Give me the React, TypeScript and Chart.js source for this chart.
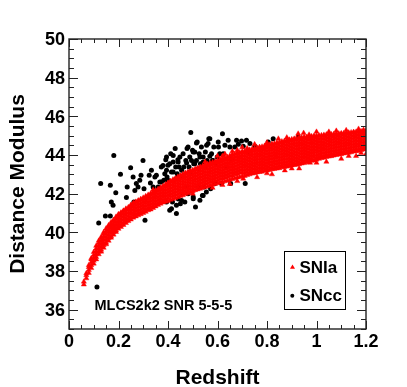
import { useEffect, useRef } from 'react';
import { Chart, registerables } from 'chart.js';

Chart.register(...registerables);

const W = 407;
const H = 387;

const xMajorTicks = [0, 0.2, 0.4, 0.6, 0.8, 1.0, 1.2];
const xTickLabels = ['0', '0.2', '0.4', '0.6', '0.8', '1', '1.2'];
const yMajorTicks = [36, 38, 40, 42, 44, 46, 48, 50];
const yTickLabels = ['36', '38', '40', '42', '44', '46', '48', '50'];
const xTitle = 'Redshift';
const yTitle = 'Distance Modulus';
const annotation = 'MLCS2k2 SNR 5-5-5';
const legendLabels = ['SNIa', 'SNcc'];

// SNcc (black dots): redshift / distance modulus
const snccZ = [
  0.113, 0.12, 0.128, 0.147, 0.167, 0.167, 0.171, 0.178, 0.181, 0.189, 0.208, 0.232, 0.235, 0.249, 0.259,
  0.262, 0.266, 0.272, 0.279, 0.286, 0.291, 0.299, 0.303, 0.307, 0.316, 0.324, 0.329, 0.333, 0.34, 0.347,
  0.353, 0.36, 0.367, 0.373, 0.383, 0.391, 0.394, 0.396, 0.4, 0.404, 0.407, 0.411, 0.414, 0.418, 0.421,
  0.425, 0.429, 0.431, 0.434, 0.437, 0.44, 0.442, 0.445, 0.448, 0.45, 0.454, 0.458, 0.461, 0.464, 0.468,
  0.472, 0.475, 0.477, 0.481, 0.485, 0.488, 0.492, 0.495, 0.499, 0.502, 0.504, 0.508, 0.511, 0.515, 0.518,
  0.521, 0.523, 0.526, 0.529, 0.531, 0.535, 0.539, 0.542, 0.545, 0.549, 0.551, 0.555, 0.558, 0.562, 0.565,
  0.569, 0.572, 0.576, 0.58, 0.585, 0.589, 0.593, 0.599, 0.604, 0.609, 0.616, 0.62, 0.623, 0.63, 0.636,
  0.643, 0.65, 0.653, 0.657, 0.67, 0.677, 0.684, 0.697, 0.704, 0.712, 0.717, 0.731, 0.724, 0.751, 0.785,
  0.805, 0.825, 0.926, 0.569, 0.515, 0.481, 0.556, 0.603, 0.394, 0.421, 0.502, 0.529, 0.569, 0.609, 0.38,
  0.407, 0.441, 0.475, 0.508, 0.542, 0.582, 0.387, 0.421, 0.455, 0.488, 0.373, 0.4, 0.434, 0.394, 0.414,
  0.434, 0.455, 0.502, 0.542,
];
const snccMu = [
  37.17, 40.48, 42.52, 40.84, 40.84, 42.43, 41.57, 41.4, 43.98, 42.05, 43.0, 41.8, 42.34, 43.34, 42.86,
  41.57, 42.17, 42.52, 42.34, 42.69, 42.95, 43.72, 42.26, 40.62, 41.8, 42.95, 42.55, 43.21, 42.34, 42.86,
  42.95, 42.34, 42.6, 43.38, 42.69, 43.76, 43.21, 42.86, 43.47, 42.48, 41.14, 44.07, 43.12, 41.57, 43.64,
  42.69, 44.33, 43.38, 41.4, 43.03, 43.76, 41.72, 43.38, 43.9, 41.48, 42.86, 42.0, 44.07, 43.38, 41.57,
  43.72, 42.34, 44.33, 42.0, 43.38, 43.9, 45.17, 43.72, 44.24, 41.83, 43.55, 44.16, 41.31, 43.72, 44.67,
  43.29, 42.34, 44.07, 41.66, 43.55, 44.41, 41.91, 43.9, 42.34, 43.38, 44.16, 42.09, 43.72, 44.59, 44.84,
  43.55, 42.26, 44.07, 43.72, 44.41, 42.52, 43.55, 43.9, 44.41, 43.72, 42.52, 45.1, 44.07, 44.5, 43.38,
  44.76, 44.41, 42.52, 43.81, 44.41, 44.76, 44.55, 44.72, 44.45, 42.52, 44.76, 44.59, 44.16, 44.45, 44.33,
  44.67, 44.84, 44.93, 44.84, 44.62, 44.41, 44.5, 44.67, 43.9, 43.98, 44.16, 43.9, 43.93, 44.07, 43.46,
  43.55, 43.64, 43.59, 43.55, 43.64, 43.72, 43.03, 43.12, 43.21, 43.12, 42.6, 42.69, 42.78, 41.57, 41.22,
  40.97, 41.65, 41.74, 41.91,
];

// SNIa (red triangles): read column by column along the dense band
const snIaColZ = [
  0.06, 0.07, 0.08, 0.09, 0.1, 0.11, 0.12, 0.13, 0.14, 0.15, 0.16, 0.17, 0.18, 0.19, 0.2,
  0.21, 0.22, 0.23, 0.24, 0.25, 0.26, 0.27, 0.28, 0.29, 0.3, 0.31, 0.32, 0.33, 0.34, 0.35,
  0.36, 0.37, 0.38, 0.39, 0.4, 0.41, 0.42, 0.43, 0.44, 0.45, 0.46, 0.47, 0.48, 0.49, 0.5,
  0.51, 0.52, 0.53, 0.54, 0.55, 0.56, 0.57, 0.58, 0.59, 0.6, 0.61, 0.62, 0.63, 0.64, 0.65,
  0.66, 0.67, 0.68, 0.69, 0.7, 0.71, 0.72, 0.73, 0.74, 0.75, 0.76, 0.77, 0.78, 0.79, 0.8,
  0.81, 0.82, 0.83, 0.84, 0.85, 0.86, 0.87, 0.88, 0.89, 0.9, 0.91, 0.92, 0.93, 0.94, 0.95,
  0.96, 0.97, 0.98, 0.99, 1.0, 1.01, 1.02, 1.03, 1.04, 1.05, 1.06, 1.07, 1.08, 1.09, 1.1,
  1.11, 1.12, 1.13, 1.14, 1.15, 1.16, 1.17, 1.18, 1.19, 1.2,
];
const snIaColMu = [
  [37.3, 37.45],
  [37.62, 37.78, 37.88],
  [37.9, 38.05, 38.2, 38.3],
  [38.15, 38.3, 38.45, 38.6, 38.66],
  [38.38, 38.53, 38.68, 38.83, 38.98],
  [38.6, 38.72, 38.87, 39.02, 39.17, 39.3],
  [38.86, 39.0, 39.15, 39.3, 39.45, 39.56],
  [39.0, 39.1, 39.25, 39.4, 39.55, 39.7, 39.76],
  [39.2, 39.33, 39.48, 39.63, 39.78, 39.93, 40.0],
  [39.38, 39.46, 39.61, 39.76, 39.91, 40.06, 40.2],
  [39.56, 39.7, 39.85, 40.0, 40.15, 40.3, 40.36],
  [39.72, 39.8, 39.95, 40.1, 40.25, 40.4, 40.52],
  [39.88, 40.0, 40.15, 40.3, 40.45, 40.6, 40.64],
  [40.02, 40.1, 40.25, 40.4, 40.55, 40.7, 40.8],
  [40.18, 40.3, 40.45, 40.6, 40.75, 40.9, 40.94],
  [40.28, 40.38, 40.53, 40.68, 40.83, 40.98, 41.02],
  [40.38, 40.5, 40.65, 40.8, 40.95, 41.1, 41.12],
  [40.48, 40.58, 40.73, 40.88, 41.03, 41.18, 41.22],
  [40.58, 40.7, 40.85, 41.0, 41.15, 41.3],
  [40.66, 40.78, 40.93, 41.08, 41.23, 41.38, 41.42],
  [40.76, 40.88, 41.03, 41.18, 41.33, 41.48, 41.52],
  [40.82, 40.95, 41.1, 41.25, 41.4, 41.55, 41.58],
  [40.88, 41.02, 41.17, 41.32, 41.47, 41.62, 41.65],
  [40.94, 41.06, 41.21, 41.36, 41.51, 41.66, 41.72],
  [41.0, 41.12, 41.27, 41.42, 41.57, 41.72, 41.79],
  [41.06, 41.2, 41.35, 41.5, 41.65, 41.8, 41.87],
  [41.14, 41.26, 41.41, 41.56, 41.71, 41.86, 41.94],
  [41.18, 41.33, 41.48, 41.63, 41.78, 41.93, 42.01],
  [41.26, 41.38, 41.53, 41.68, 41.83, 41.98, 42.08],
  [41.34, 41.46, 41.61, 41.76, 41.91, 42.06, 42.16],
  [41.42, 41.52, 41.67, 41.82, 41.97, 42.12, 42.24],
  [41.48, 41.6, 41.75, 41.9, 42.05, 42.2, 42.32],
  [41.54, 41.66, 41.81, 41.96, 42.11, 42.26, 42.4],
  [41.58, 41.74, 41.89, 42.04, 42.19, 42.34, 42.48],
  [41.62, 41.78, 41.93, 42.08, 42.23, 42.38, 42.53, 42.56],
  [41.68, 41.86, 42.01, 42.16, 42.31, 42.46, 42.61, 42.65],
  [41.72, 41.88, 42.03, 42.18, 42.33, 42.48, 42.63, 42.73],
  [41.78, 41.95, 42.1, 42.25, 42.4, 42.55, 42.7, 42.8],
  [41.82, 41.97, 42.12, 42.27, 42.42, 42.57, 42.72, 42.87],
  [41.88, 42.05, 42.2, 42.35, 42.5, 42.65, 42.8, 42.94],
  [41.92, 42.06, 42.21, 42.36, 42.51, 42.66, 42.81, 42.96, 43.01],
  [41.98, 42.14, 42.29, 42.44, 42.59, 42.74, 42.89, 43.04, 43.07],
  [42.02, 42.16, 42.31, 42.46, 42.61, 42.76, 42.91, 43.06, 43.12],
  [42.08, 42.24, 42.39, 42.54, 42.69, 42.84, 42.99, 43.14, 43.17],
  [42.12, 42.26, 42.41, 42.56, 42.71, 42.86, 43.01, 43.16, 43.22],
  [42.18, 42.34, 42.49, 42.64, 42.79, 42.94, 43.09, 43.24, 43.28],
  [42.22, 42.36, 42.51, 42.66, 42.81, 42.96, 43.11, 43.26, 43.33],
  [42.26, 42.43, 42.58, 42.73, 42.88, 43.03, 43.18, 43.33, 43.38],
  [42.3, 42.45, 42.6, 42.75, 42.9, 43.05, 43.2, 43.35, 43.43],
  [42.34, 42.52, 42.67, 42.82, 42.97, 43.12, 43.27, 43.42, 43.49],
  [42.38, 42.54, 42.69, 42.84, 42.99, 43.14, 43.29, 43.44, 43.53],
  [42.42, 42.6, 42.75, 42.9, 43.05, 43.2, 43.35, 43.5, 43.58],
  [42.46, 42.62, 42.77, 42.92, 43.07, 43.22, 43.37, 43.52, 43.63],
  [42.5, 42.68, 42.83, 42.98, 43.13, 43.28, 43.43, 43.58, 43.67],
  [42.54, 42.7, 42.85, 43.0, 43.15, 43.3, 43.45, 43.6, 43.72],
  [42.58, 42.76, 42.91, 43.06, 43.21, 43.36, 43.51, 43.66, 43.77],
  [42.6, 42.78, 42.93, 43.08, 43.23, 43.38, 43.53, 43.68, 43.8],
  [42.64, 42.84, 42.99, 43.14, 43.29, 43.44, 43.59, 43.74, 43.86],
  [42.68, 42.86, 43.01, 43.16, 43.31, 43.46, 43.61, 43.76, 43.9],
  [42.72, 42.92, 43.07, 43.22, 43.37, 43.52, 43.67, 43.82, 43.96],
  [42.76, 42.94, 43.09, 43.24, 43.39, 43.54, 43.69, 43.84, 43.99, 44.02],
  [42.8, 43.0, 43.15, 43.3, 43.45, 43.6, 43.75, 43.9, 44.05],
  [42.84, 43.02, 43.17, 43.32, 43.47, 43.62, 43.77, 43.92, 44.07, 44.1],
  [42.86, 43.08, 43.23, 43.38, 43.53, 43.68, 43.83, 43.98, 44.13],
  [42.9, 43.1, 43.25, 43.4, 43.55, 43.7, 43.85, 44.0, 44.15, 44.17],
  [42.92, 43.06, 43.21, 43.36, 43.51, 43.66, 43.81, 43.96, 44.11, 44.2],
  [42.96, 43.14, 43.29, 43.44, 43.59, 43.74, 43.89, 44.04, 44.19, 44.23],
  [43.0, 43.1, 43.25, 43.4, 43.55, 43.7, 43.85, 44.0, 44.15, 44.27],
  [43.04, 43.18, 43.33, 43.48, 43.63, 43.78, 43.93, 44.08, 44.23, 44.31],
  [43.06, 43.14, 43.29, 43.44, 43.59, 43.74, 43.89, 44.04, 44.19, 44.34],
  [43.1, 43.22, 43.37, 43.52, 43.67, 43.82, 43.97, 44.12, 44.27, 44.37],
  [43.12, 43.18, 43.33, 43.48, 43.63, 43.78, 43.93, 44.08, 44.23, 44.38, 44.41],
  [43.14, 43.26, 43.41, 43.56, 43.71, 43.86, 44.01, 44.16, 44.31, 44.43],
  [43.18, 43.34, 43.49, 43.64, 43.79, 43.94, 44.09, 44.24, 44.39, 44.47],
  [43.2, 43.3, 43.45, 43.6, 43.75, 43.9, 44.05, 44.2, 44.35, 44.5],
  [43.22, 43.37, 43.52, 43.67, 43.82, 43.97, 44.12, 44.27, 44.42, 44.53],
  [43.26, 43.34, 43.49, 43.64, 43.79, 43.94, 44.09, 44.24, 44.39, 44.54, 44.57],
  [43.28, 43.42, 43.57, 43.72, 43.87, 44.02, 44.17, 44.32, 44.47, 44.59],
  [43.3, 43.38, 43.53, 43.68, 43.83, 43.98, 44.13, 44.28, 44.43, 44.58, 44.63],
  [43.32, 43.46, 43.61, 43.76, 43.91, 44.06, 44.21, 44.36, 44.51, 44.66],
  [43.36, 43.44, 43.59, 43.74, 43.89, 44.04, 44.19, 44.34, 44.49, 44.64, 44.7],
  [43.38, 43.52, 43.67, 43.82, 43.97, 44.12, 44.27, 44.42, 44.57, 44.72],
  [43.4, 43.48, 43.63, 43.78, 43.93, 44.08, 44.23, 44.38, 44.53, 44.68, 44.76],
  [43.42, 43.56, 43.71, 43.86, 44.01, 44.16, 44.31, 44.46, 44.61, 44.76, 44.79],
  [43.46, 43.52, 43.67, 43.82, 43.97, 44.12, 44.27, 44.42, 44.57, 44.72, 44.81],
  [43.48, 43.6, 43.75, 43.9, 44.05, 44.2, 44.35, 44.5, 44.65, 44.8, 44.84],
  [43.5, 43.56, 43.71, 43.86, 44.01, 44.16, 44.31, 44.46, 44.61, 44.76, 44.87],
  [43.52, 43.64, 43.79, 43.94, 44.09, 44.24, 44.39, 44.54, 44.69, 44.84, 44.89],
  [43.56, 43.6, 43.75, 43.9, 44.05, 44.2, 44.35, 44.5, 44.65, 44.8, 44.91],
  [43.58, 43.68, 43.83, 43.98, 44.13, 44.28, 44.43, 44.58, 44.73, 44.88, 44.93],
  [43.62, 43.76, 43.91, 44.06, 44.21, 44.36, 44.51, 44.66, 44.81, 44.93],
  [43.64, 43.72, 43.87, 44.02, 44.17, 44.32, 44.47, 44.62, 44.77, 44.92, 44.95],
  [43.7, 43.8, 43.95, 44.1, 44.25, 44.4, 44.55, 44.7, 44.85, 44.97],
  [43.72, 43.88, 44.03, 44.18, 44.33, 44.48, 44.63, 44.78, 44.93, 44.99],
  [43.76, 43.84, 43.99, 44.14, 44.29, 44.44, 44.59, 44.74, 44.89, 45.0],
  [43.8, 43.92, 44.07, 44.22, 44.37, 44.52, 44.67, 44.82, 44.97, 45.01],
  [43.84, 43.98, 44.13, 44.28, 44.43, 44.58, 44.73, 44.88, 45.02],
  [43.86, 43.94, 44.09, 44.24, 44.39, 44.54, 44.69, 44.84, 44.99, 45.04],
  [43.9, 44.02, 44.17, 44.32, 44.47, 44.62, 44.77, 44.92, 45.06],
  [43.92, 44.0, 44.15, 44.3, 44.45, 44.6, 44.75, 44.9, 45.05, 45.07],
  [43.94, 44.08, 44.23, 44.38, 44.53, 44.68, 44.83, 44.98, 45.07],
  [43.98, 44.06, 44.21, 44.36, 44.51, 44.66, 44.81, 44.96, 45.09],
  [44.0, 44.14, 44.29, 44.44, 44.59, 44.74, 44.89, 45.04, 45.1],
  [44.02, 44.1, 44.25, 44.4, 44.55, 44.7, 44.85, 45.0, 45.11],
  [44.04, 44.18, 44.33, 44.48, 44.63, 44.78, 44.93, 45.08, 45.12],
  [44.08, 44.16, 44.31, 44.46, 44.61, 44.76, 44.91, 45.06, 45.13],
  [44.1, 44.24, 44.39, 44.54, 44.69, 44.84, 44.99, 45.14],
  [44.12, 44.2, 44.35, 44.5, 44.65, 44.8, 44.95, 45.1, 45.16],
  [44.14, 44.28, 44.43, 44.58, 44.73, 44.88, 45.03, 45.17],
  [44.18, 44.26, 44.41, 44.56, 44.71, 44.86, 45.01, 45.16, 45.19],
  [44.2, 44.34, 44.49, 44.64, 44.79, 44.94, 45.09, 45.2],
  [44.22, 44.3, 44.45, 44.6, 44.75, 44.9, 45.05, 45.2, 45.23],
  [44.24, 44.38, 44.53, 44.68, 44.83, 44.98, 45.13, 45.23],
  [44.28, 44.36, 44.51, 44.66, 44.81, 44.96, 45.11, 45.24],
  [44.3, 44.44, 44.59, 44.74, 44.89, 45.04, 45.19, 45.26],
];
// SNIa stragglers outside the dense band
const snIaOutZ = [
  0.34, 0.6, 0.63, 0.66, 0.7, 0.75, 0.798, 0.846, 0.926, 0.948, 1.0, 1.08, 1.17, 1.19,
  0.58, 0.65, 0.704, 0.76, 0.82, 0.872, 0.93, 0.974, 1.04, 1.068, 1.1, 1.16, 1.2,
  0.55, 0.62, 0.68, 0.72, 0.8, 0.88, 0.97, 1.05, 1.12,
  0.5, 0.62, 0.68, 0.8, 0.9, 1.0, 1.13, 1.18,
];
const snIaOutMu = [
  42.2, 43.95, 44.05, 44.2, 44.4, 44.55, 44.5, 44.84, 45.1, 45.14, 45.2, 45.25, 45.35, 45.3,
  42.3, 42.5, 42.77, 42.85, 43.0, 43.2, 43.3, 43.6, 43.65, 43.98, 43.8, 43.95, 44.05,
  43.65, 43.95, 44.25, 44.35, 44.65, 44.9, 45.05, 45.2, 45.28,
  42.0, 42.45, 42.65, 43.05, 43.3, 43.6, 43.95, 44.1,
];

const FONT = '"Liberation Sans", Arial, Helvetica, sans-serif';

const framePlugin = {
  id: 'rootFrame',
  afterDraw(chart: any) {
    const ctx = chart.ctx as CanvasRenderingContext2D;
    const { left, right, top, bottom } = chart.chartArea;
    const xs = chart.scales.x;
    const ys = chart.scales.y;
    ctx.save();
    ctx.strokeStyle = '#222';
    ctx.lineWidth = 1.4;
    ctx.strokeRect(left, top, right - left, bottom - top);
    ctx.lineWidth = 1;
    ctx.beginPath();
    for (let i = 0; i <= 24; i++) {
      const v = i * 0.05;
      const px = Math.round(xs.getPixelForValue(v)) + 0.5;
      const len = i % 4 === 0 ? 8 : 4;
      ctx.moveTo(px, bottom);
      ctx.lineTo(px, bottom - len);
      ctx.moveTo(px, top);
      ctx.lineTo(px, top + len);
    }
    for (let i = 0; i <= 30; i++) {
      const v = 35 + i * 0.5;
      const py = Math.round(ys.getPixelForValue(v)) + 0.5;
      const len = i % 4 === 2 ? 9 : 5;
      ctx.moveTo(left, py);
      ctx.lineTo(left + len, py);
      ctx.moveTo(right, py);
      ctx.lineTo(right - len, py);
    }
    ctx.stroke();

    ctx.fillStyle = '#000';
    ctx.font = `bold 18px ${FONT}`;
    ctx.textAlign = 'center';
    ctx.textBaseline = 'alphabetic';
    xMajorTicks.forEach((v, i) => {
      ctx.fillText(xTickLabels[i], xs.getPixelForValue(v), 347);
    });
    ctx.textAlign = 'right';
    yMajorTicks.forEach((v, i) => {
      ctx.fillText(yTickLabels[i], 65, ys.getPixelForValue(v) + 6.4);
    });

    ctx.font = `bold 21px ${FONT}`;
    ctx.textAlign = 'center';
    ctx.fillText(xTitle, (left + right) / 2, 384);
    ctx.save();
    ctx.translate(23.5, (top + bottom) / 2);
    ctx.rotate(-Math.PI / 2);
    ctx.fillText(yTitle, 0, 0);
    ctx.restore();

    ctx.font = `bold 14.5px ${FONT}`;
    ctx.textAlign = 'left';
    ctx.fillText(annotation, 94.5, 310);

    // legend
    ctx.lineWidth = 1;
    ctx.strokeStyle = '#000';
    ctx.strokeRect(284.5, 251.5, 61, 58);
    ctx.font = `bold 17px ${FONT}`;
    ctx.fillText(legendLabels[0], 299.5, 273.3);
    ctx.fillText(legendLabels[1], 299.5, 301);
    ctx.fillStyle = '#ff0000';
    ctx.beginPath();
    ctx.moveTo(292.5, 264.5);
    ctx.lineTo(295, 268.8);
    ctx.lineTo(290, 268.8);
    ctx.closePath();
    ctx.fill();
    ctx.fillStyle = '#000';
    ctx.beginPath();
    ctx.arc(292.3, 295.7, 2, 0, Math.PI * 2);
    ctx.fill();
    ctx.restore();
  },
};

export default function App() {
  const ref = useRef<HTMLCanvasElement | null>(null);
  useEffect(() => {
    if (!ref.current) return;
    const snIa: { x: number; y: number }[] = [];
    snIaColZ.forEach((z, i) => {
      snIaColMu[i].forEach((m) => snIa.push({ x: z, y: m }));
    });
    snIaOutZ.forEach((z, i) => snIa.push({ x: z, y: snIaOutMu[i] }));
    const sncc = snccZ.map((z, i) => ({ x: z, y: snccMu[i] }));
    const chart = new Chart(ref.current, {
      type: 'scatter',
      data: {
        datasets: [
          {
            label: legendLabels[0],
            data: snIa,
            pointStyle: 'triangle',
            pointRadius: 3,
            backgroundColor: '#ff0000',
            borderColor: '#ff0000',
            borderWidth: 0.4,
            clip: 0,
            order: 0,
          },
          {
            label: legendLabels[1],
            data: sncc,
            pointStyle: 'circle',
            pointRadius: 2.5,
            backgroundColor: '#000',
            borderWidth: 0,
            clip: 0,
            order: 1,
          },
        ],
      },
      options: {
        animation: false,
        responsive: false,
        devicePixelRatio: 1,
        events: [],
        layout: { padding: { left: 69, right: 41, top: 39, bottom: 58 } },
        plugins: { legend: { display: false }, tooltip: { enabled: false } },
        scales: {
          x: { type: 'linear', min: 0, max: 1.2, display: false },
          y: { type: 'linear', min: 35, max: 50, display: false },
        },
      },
      plugins: [framePlugin],
    });
    return () => chart.destroy();
  }, []);
  return (
    <div style={{ position: 'fixed', left: 0, top: 0, width: W, height: H, background: '#fff' }}>
      <canvas ref={ref} width={W} height={H} style={{ width: W, height: H }} />
    </div>
  );
}
